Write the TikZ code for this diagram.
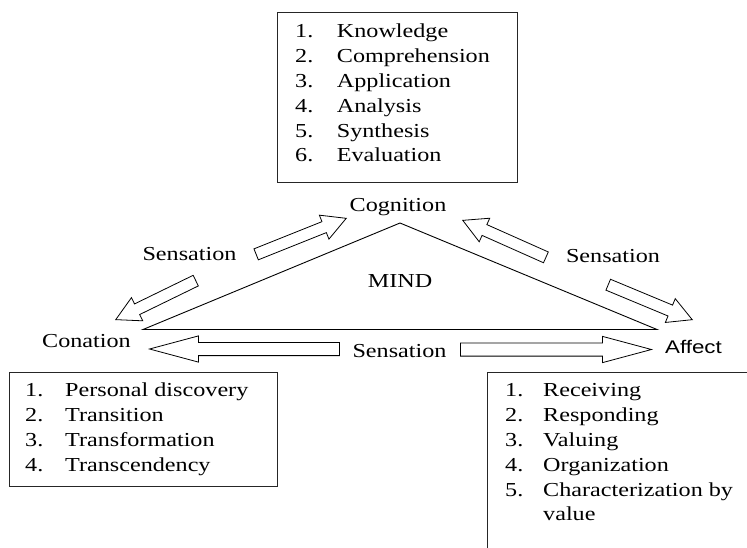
\documentclass[tikz,border=0pt]{standalone}
\usepackage{fontspec}
\setmainfont{Liberation Serif}[FakeStretch=1.22]
\newfontfamily\affectfont{Liberation Sans}[FakeStretch=1.22]
\usetikzlibrary{shapes.arrows}

\begin{document}
\begin{tikzpicture}[x=1pt, y=-1pt,
  every node/.style={font=\fontsize{19.8}{25}\selectfont, inner sep=0pt},
  lbl/.style={anchor=base},
  item/.style={anchor=base west},
  listbox/.style={draw=black!85, line width=1pt, rectangle, anchor=north west},
  sarrow/.style={single arrow, draw, line width=0.8pt, inner xsep=0pt, inner ysep=5.5pt,
    single arrow head extend=7pt, single arrow tip angle=57, anchor=tip},
  harrow/.style={sarrow, inner ysep=6.2pt, single arrow head extend=6.5pt, single arrow tip angle=30}]

\useasboundingbox (0,0) rectangle (747,547);
\clip (0,0) rectangle (747,547);

% the three lists
\node[listbox, minimum width=240pt, minimum height=170pt] (cogbox) at (277,12) {};
\node[listbox, minimum width=268pt, minimum height=114pt] (conbox) at (9,372) {};
\node[listbox, minimum width=300pt, minimum height=220pt] (affbox) at (487,372) {};

\foreach \t [count=\i] in {Knowledge, Comprehension, Application, Analysis, Synthesis, Evaluation} {
  \node[item] (cogn\i) at (295, 13+24.8*\i) {\i.};
  \node[item] (cog\i) at (336.7, 13+24.8*\i) {\t};
}
\foreach \t [count=\i] in {Personal discovery, Transition, Transformation, Transcendency} {
  \node[item] (conn\i) at (25, 372+24.8*\i) {\i.};
  \node[item] (con\i) at (65, 372+24.8*\i) {\t};
}
\foreach \t [count=\i] in {Receiving, Responding, Valuing, Organization, Characterization by} {
  \node[item] (affn\i) at (505, 372+24.8*\i) {\i.};
  \node[item] (aff\i) at (543, 372+24.8*\i) {\t};
}
\node[item] (aff6) at (543, 520.8) {value};

% the mind triangle
\coordinate (apex) at (400,223);
\coordinate (lv) at (143,329.5);
\coordinate (rv) at (657,329.5);
\draw[line width=0.9pt] (apex) -- (rv) -- (lv) -- cycle;

\node[lbl] (cognition) at (398,211) {Cognition};
\node[lbl] (mind) at (400,287) {MIND};
\node[lbl] (conation) at (86.5,347) {Conation};
\node[lbl, font=\affectfont\fontsize{18.3}{22}\selectfont] (affect) at (693.5,353) {Affect};
\node[lbl] (sensl) at (189.5,260) {Sensation};
\node[lbl] (sensr) at (613,262) {Sensation};
\node[lbl] (sensb) at (399.5,357) {Sensation};

% sensation arrows
\node[sarrow, rotate=21.8, minimum height=97pt] (arrcog1) at (347,218) {};
\node[sarrow, rotate=206, minimum height=89pt] (arrcon1) at (115,320) {};
\node[sarrow, rotate=156, minimum height=91pt] (arrcog2) at (462,220) {};
\node[sarrow, rotate=-22.6, minimum height=91pt] (arraff1) at (693,320) {};
\node[harrow, rotate=180, minimum height=190pt] (arrcon2) at (148,349) {};
\node[harrow, minimum height=191pt] (arraff2) at (653,349.5) {};

\end{tikzpicture}
\end{document}
